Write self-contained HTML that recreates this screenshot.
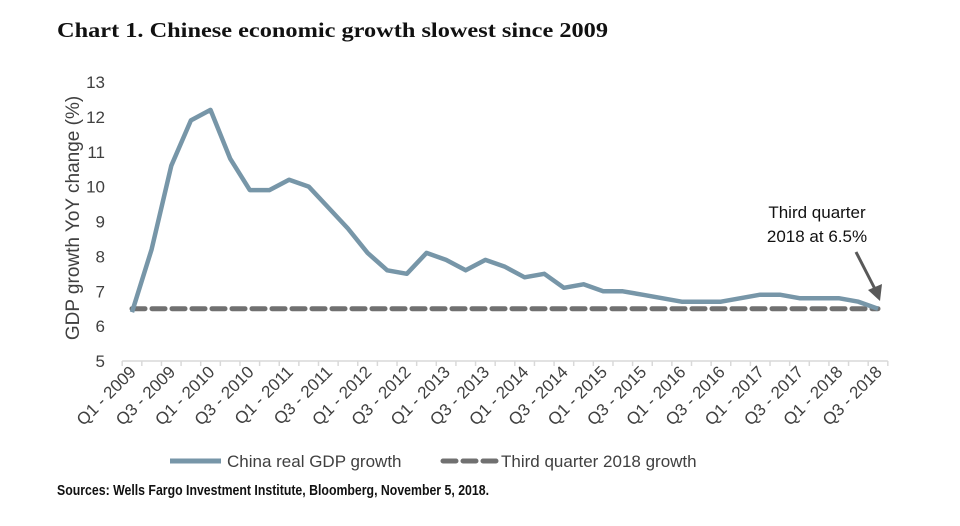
<!DOCTYPE html>
<html><head><meta charset="utf-8"><style>
html,body{margin:0;padding:0;background:#fff;width:960px;height:526px;overflow:hidden}
svg{display:block}
</style></head><body>
<svg id="chart" width="960" height="526" viewBox="0 0 960 526" xmlns="http://www.w3.org/2000/svg">
<text x="57" y="37" font-family="Liberation Serif, serif" font-weight="bold" font-size="21" fill="#111" textLength="551" lengthAdjust="spacingAndGlyphs">Chart 1. Chinese economic growth slowest since 2009</text>
<text transform="translate(79,218) rotate(-90)" text-anchor="middle" font-family="Liberation Sans, sans-serif" font-size="19" fill="#404040">GDP growth YoY change (%)</text>
<g id="yticks"></g>
<g id="xaxis"></g>
<g id="series"></g>
<text font-family="Liberation Sans, sans-serif" font-size="17" fill="#111" text-anchor="middle"><tspan x="817" y="218">Third quarter</tspan><tspan x="817" y="242">2018 at 6.5%</tspan></text>
<line x1="856" y1="252" x2="876" y2="291" stroke="#595959" stroke-width="3"/>
<polygon points="880,301 868,290 882,284" fill="#595959"/>
<g>
<line x1="170" y1="461" x2="221" y2="461" stroke="#7796a8" stroke-width="5"/>
<text x="227" y="467" font-family="Liberation Sans, sans-serif" font-size="17" fill="#404040">China real GDP growth</text>
<line x1="443" y1="461" x2="496" y2="461" stroke="#707070" stroke-width="5" stroke-dasharray="13,7" stroke-linecap="round"/>
<text x="501" y="467" font-family="Liberation Sans, sans-serif" font-size="17" fill="#404040">Third quarter 2018 growth</text>
</g>
<text x="57" y="495" font-family="Liberation Sans Narrow, Liberation Sans, sans-serif" font-weight="bold" font-size="15" fill="#111" textLength="432" lengthAdjust="spacingAndGlyphs">Sources: Wells Fargo Investment Institute, Bloomberg, November 5, 2018.</text>
</svg>
<script>
const categories = [];
for (let y = 2009; y <= 2018; y++) for (let q = 1; q <= 4; q++) { if (y === 2018 && q === 4) break; categories.push('Q' + q + ' - ' + y); }
const gdpValues = [6.4,8.2,10.6,11.9, 12.2,10.8,9.9,9.9, 10.2,10.0,9.4,8.8, 8.1,7.6,7.5,8.1, 7.9,7.6,7.9,7.7, 7.4,7.5,7.1,7.2, 7.0,7.0,6.9,6.8, 6.7,6.7,6.7,6.8, 6.9,6.9,6.8,6.8, 6.8,6.7,6.5];
const referenceValue = 6.5;
const yTicks = [5,6,7,8,9,10,11,12,13];

const NS = 'http://www.w3.org/2000/svg';
const x0 = 132, xStep = (878 - 132) / 38;
const yBase = 361, yUnit = (361 - 82) / 8;
function xPos(i){ return x0 + i * xStep; }
function yPos(v){ return yBase - (v - 5) * yUnit; }
function mk(tag, attrs, parent){ const e = document.createElementNS(NS, tag); for (const k in attrs) e.setAttribute(k, attrs[k]); parent.appendChild(e); return e; }

const yg = document.getElementById('yticks');
yTicks.forEach(v => {
  const t = mk('text', {x: 105, y: yPos(v) + 6, 'text-anchor': 'end', 'font-family': 'Liberation Sans, sans-serif', 'font-size': 17, fill: '#404040'}, yg);
  
  
  t.textContent = v;
});

const xg = document.getElementById('xaxis');
const axis = mk('line', {x1: xPos(0) - xStep/2, x2: xPos(categories.length - 1) + xStep/2, y1: yBase, y2: yBase, stroke: '#d9d9d9', 'stroke-width': 1.5}, xg);


for (let i = 0; i <= categories.length; i++) {
  const tx = xPos(i) - xStep/2;
  const tk = mk('line', {x1: tx, x2: tx, y1: yBase, y2: yBase + 5, stroke: '#d9d9d9', 'stroke-width': 1.5}, xg);
  
  
}
categories.forEach((c, i) => {
  if (i % 2) return;
  const lx = xPos(i) + 5, ly = yBase + 12;
  const t = mk('text', {x: lx, y: ly, transform: 'rotate(-45 ' + lx + ' ' + ly + ')', 'text-anchor': 'end', 'font-family': 'Liberation Sans, sans-serif', 'font-size': 17, fill: '#404040'}, xg);
  
  
  t.textContent = c;
});

const sg = document.getElementById('series');
const ref = mk('line', {x1: xPos(0), x2: xPos(categories.length - 1), y1: yPos(referenceValue), y2: yPos(referenceValue), stroke: '#707070', 'stroke-width': 5, 'stroke-dasharray': '13,7', 'stroke-linecap': 'round'}, sg);


const pts = gdpValues.map((v, i) => xPos(i).toFixed(1) + ',' + yPos(v).toFixed(1)).join(' ');
const pl = mk('polyline', {points: pts, fill: 'none', stroke: '#7796a8', 'stroke-width': 4.5, 'stroke-linejoin': 'round'}, sg);


</script>
</body></html>
